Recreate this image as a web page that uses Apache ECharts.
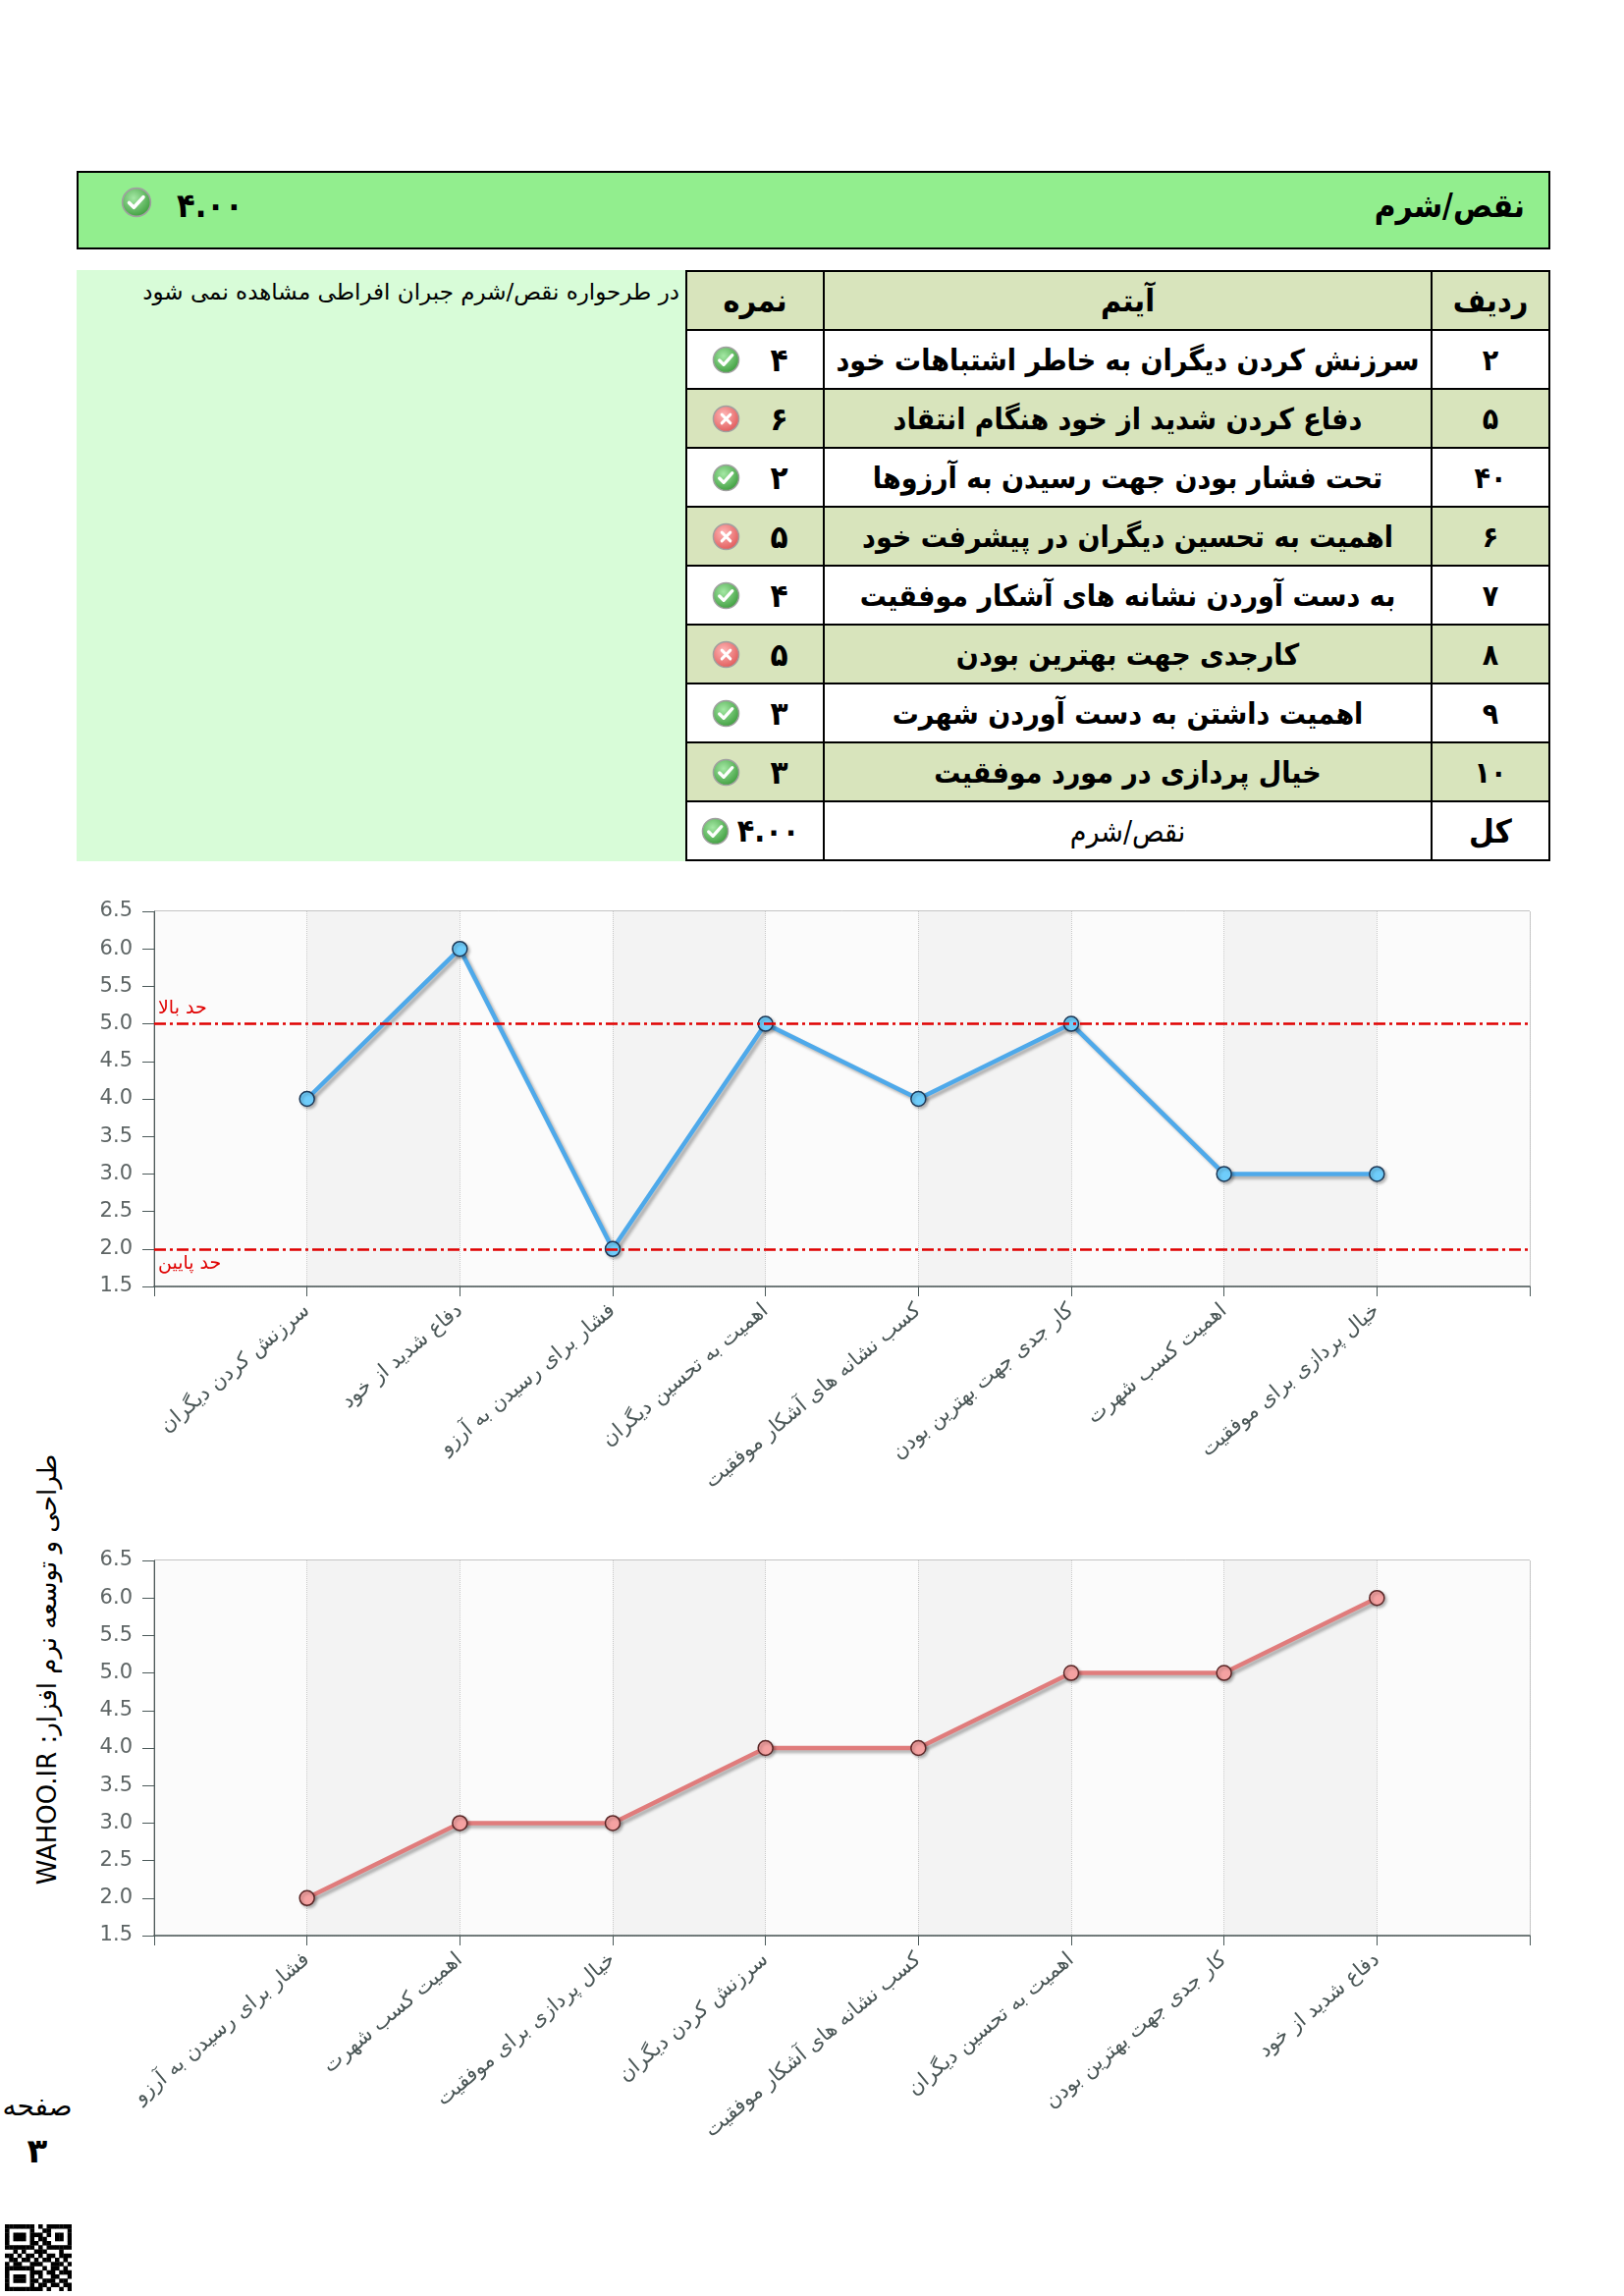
<!DOCTYPE html>
<html lang="fa">
<head>
<meta charset="utf-8">
<title>نقص/شرم</title>
<script src="https://cdn.jsdelivr.net/npm/echarts/dist/echarts.min.js"></script>
<style>
body { margin:0; background:#fff; font-family:"DejaVu Sans", sans-serif; }
#page { position:relative; width:1654px; height:2338px; overflow:hidden; background:#fff; }
#head { position:absolute; left:78px; top:174px; width:1497px; height:76px; background:#92ee8e; border:2px solid #000; }
#head .title { position:absolute; right:24px; top:14px; font:bold 33px "DejaVu Sans Condensed", "DejaVu Sans"; direction:rtl; }
#head .score { position:absolute; left:100px; top:13px; font:bold 34px "DejaVu Sans Condensed", "DejaVu Sans"; }
#note { position:absolute; left:78px; top:275px; width:620px; height:602px; background:#d8fcd8; }
#note div { position:absolute; right:6px; top:9px; font-size:23px; direction:rtl; }
#tbl { position:absolute; left:698px; top:275px; width:881px; border-collapse:collapse; direction:rtl; }
#tbl td, #tbl th { border:2px solid #000; height:58px; padding:0; text-align:center; font:bold 30px "DejaVu Sans Condensed", "DejaVu Sans"; }
#tbl th { background:#d8e4bc; font-size:32px; }
#tbl tr.alt td { background:#d8e4bc; }
#tbl td.sc span { display:inline-block; vertical-align:middle; }
#chart { position:absolute; left:0; top:0; width:1654px; height:2338px; }
#side { position:absolute; left:48px; top:1700px; transform:translate(-50%,-50%) rotate(-90deg); white-space:nowrap; direction:rtl; font-size:26px; }
.pg { position:absolute; left:0; width:76px; text-align:center; direction:rtl; }
#qr { position:absolute; left:5px; top:2265px; }
</style>
</head>
<body>
<div id="page">
  <div id="head"><span class="title"></span><span class="ico"></span><span class="score"></span></div>
  <div id="note"><div></div></div>
  <table id="tbl"></table>
  <div id="side">طراحی و توسعه نرم افزار: WAHOO.IR</div>
  <div class="pg" style="top:2128px;font-size:28px;">صفحه</div>
  <div class="pg" style="top:2170px;font:bold 34px 'DejaVu Sans';">۳</div>
  <svg id="qr" width="68" height="68"></svg>
  <div id="chart"></div>
</div>
<script>
// ---- table data ----
var schemaName = 'نقص/شرم';
var noteText = 'در طرحواره نقص/شرم جبران افراطی مشاهده نمی شود';
var headers = ['ردیف', 'آیتم', 'نمره'];
var rowNo = ['۲', '۵', '۴۰', '۶', '۷', '۸', '۹', '۱۰'];
var items = [
    'سرزنش کردن دیگران به خاطر اشتباهات خود',
    'دفاع کردن شدید از خود هنگام انتقاد',
    'تحت فشار بودن جهت رسیدن به آرزوها',
    'اهمیت به تحسین دیگران در پیشرفت خود',
    'به دست آوردن نشانه های آشکار موفقیت',
    'کارجدی جهت بهترین بودن',
    'اهمیت داشتن به دست آوردن شهرت',
    'خیال پردازی در مورد موفقیت'
];
var scores = [4, 6, 2, 5, 4, 5, 3, 3];
var totalScore = 4.00;
var badFrom = 5;

// ---- chart data ----
var catLabels = ['سرزنش کردن دیگران', 'دفاع شدید از خود', 'فشار برای رسیدن به آرزو', 'اهمیت به تحسین دیگران',
    'کسب نشانه های آشکار موفقیت', 'کار جدی جهت بهترین بودن', 'اهمیت کسب شهرت', 'خیال پردازی برای موفقیت'];
var catValues = [4, 6, 2, 5, 4, 5, 3, 3];
var sortedLabels = ['فشار برای رسیدن به آرزو', 'اهمیت کسب شهرت', 'خیال پردازی برای موفقیت', 'سرزنش کردن دیگران',
    'کسب نشانه های آشکار موفقیت', 'اهمیت به تحسین دیگران', 'کار جدی جهت بهترین بودن', 'دفاع شدید از خود'];
var sortedValues = [2, 3, 3, 4, 4, 5, 5, 6];
var limitValues = [5, 2];
var limitNames = ['حد بالا', 'حد پایین'];

function fa(s) {
    return String(s).replace(/[0-9]/g, function(d){ return '۰۱۲۳۴۵۶۷۸۹'[d]; });
}

var iconCount = 0;
function icon(ok, size) {
    var id = 'g' + (iconCount++);
    var c1 = ok ? '#a4e8a4' : '#ffb8b8', c2 = ok ? '#3c9c3c' : '#e05858';
    var mark = ok ? '<path d="M8 15.5 L12.5 20 L21.5 10" fill="none" stroke="#fff" stroke-width="3.4" stroke-linecap="round" stroke-linejoin="round"/>'
                  : '<path d="M10.5 10.5 L19.5 19.5 M19.5 10.5 L10.5 19.5" stroke="#fff" stroke-width="3" stroke-linecap="round"/>';
    return '<svg width="' + size + '" height="' + size + '" viewBox="0 0 30 30" style="display:block">' +
        '<defs><radialGradient id="' + id + '" cx="40%" cy="35%" r="70%"><stop offset="0" stop-color="' + c1 + '"/><stop offset="1" stop-color="' + c2 + '"/></radialGradient></defs>' +
        '<circle cx="15" cy="15" r="13.5" fill="url(#' + id + ')" stroke="#a0a0a0" stroke-width="1.5"/>' + mark + '</svg>';
}

// header bar
document.querySelector('#head .title').textContent = schemaName;
document.querySelector('#head .score').textContent = fa(totalScore.toFixed(2));
document.querySelector('#head .ico').outerHTML = '<span style="position:absolute;left:43px;top:14px">' + icon(true, 32) + '</span>';
document.querySelector('#note div').textContent = noteText;

// table
var html = '<tr><th style="width:118px">' + headers[0] + '</th><th>' + headers[1] + '</th><th style="width:138px">' + headers[2] + '</th></tr>';
for (var i = 0; i < items.length; i++) {
    html += '<tr class="' + (i % 2 ? 'alt' : '') + '"><td>' + rowNo[i] + '</td><td>' + items[i] + '</td>' +
        '<td class="sc"><span style="width:40px;font-size:33px">' + fa(scores[i]) + '</span><span style="margin-right:20px">' + icon(scores[i] < badFrom, 29) + '</span></td></tr>';
}
html += '<tr><td style="font-size:33px">کل</td><td style="font-weight:normal">' + schemaName + '</td><td class="sc"><span style="width:72px;margin-right:6px;font-size:32px">' +
    fa(totalScore.toFixed(2)) + '</span><span style="margin-right:4px">' + icon(true, 29) + '</span></td></tr>';
document.getElementById('tbl').innerHTML = html;

// qr-like stamp
(function(){
    var rows = [
        '1111111010111111','1000001001100001','1011101110101101','1011101011001101','1000001101100001',
        '1111111010111111','0010100111000100','1101011010110111','0110110101101010','1011001110011101',
        '1111111001011010','1000001110110111','1011101010011001','1011101101110110','1000001011011011','1111111110100101'];
    var s = '', k = 68 / rows.length;
    rows.forEach(function(r, y){ for (var x = 0; x < r.length; x++) if (r[x] === '1')
        s += '<rect x="' + (x * k) + '" y="' + (y * k) + '" width="' + (k + 0.3) + '" height="' + (k + 0.3) + '"/>'; });
    document.getElementById('qr').innerHTML = s;
})();

// ---- charts ----
var chart = echarts.init(document.getElementById('chart'));

function pad(a, fill) { return [fill].concat(a, [fill]); }

function xAxisFor(gi, labels) {
    return {
        type: 'category', gridIndex: gi, boundaryGap: false,
        data: pad(labels, ''),
        axisLine: { lineStyle: { color: '#4c5a5a', width: 1.5 } },
        axisTick: { length: 10, lineStyle: { color: '#4c5a5a' } },
        axisLabel: { interval: 0, rotate: 40, margin: 22, fontSize: 21, color: '#4a5656', fontFamily: 'DejaVu Sans' },
        splitLine: { show: true, lineStyle: { color: '#c8c8c8', type: 'dotted' } },
        splitArea: { show: true, areaStyle: { color: ['#fbfbfb', '#f3f3f3'] } }
    };
}
function yAxisFor(gi) {
    return {
        type: 'value', gridIndex: gi, min: 1.5, max: 6.5, interval: 0.5,
        axisLine: { show: true, lineStyle: { color: '#4c5a5a', width: 1 } },
        axisTick: { show: true, length: 12, lineStyle: { color: '#4c5a5a' } },
        axisLabel: { fontSize: 21, color: '#5e6565', margin: 22, fontFamily: 'DejaVu Sans',
            formatter: function(v){ return v.toFixed(1); } },
        splitLine: { lineStyle: { color: '#c8c8c8', type: 'dotted' } }
    };
}
function lineSeries(gi, values, lineColor, fill, border) {
    return {
        type: 'line', xAxisIndex: gi, yAxisIndex: gi,
        data: pad(values, '-'),
        symbol: 'circle', symbolSize: 15,
        lineStyle: { color: lineColor, width: 4.5, shadowColor: 'rgba(0,0,0,0.28)', shadowBlur: 3, shadowOffsetX: 3, shadowOffsetY: 3 },
        itemStyle: { color: fill, borderColor: border, borderWidth: 1.5, shadowColor: 'rgba(0,0,0,0.25)', shadowBlur: 3, shadowOffsetX: 2, shadowOffsetY: 2 },
        animation: false
    };
}

var s1 = lineSeries(0, catValues, '#4ea9ea', '#6fcdfb', '#1c3857');
s1.markLine = {
    silent: true, symbol: 'none',
    lineStyle: { color: '#e00000', width: 2.5, type: [12, 4, 3, 4] },
    data: limitValues.map(function(v, i){
        return { yAxis: v, label: { show: true, formatter: limitNames[i],
            position: i === 0 ? 'insideStartTop' : 'insideStartBottom',
            color: '#e00000', fontSize: 19, fontFamily: 'DejaVu Sans', distance: [4, 6] } };
    })
};
var s2 = lineSeries(1, sortedValues, '#e07c7c', '#f5a2a2', '#5a2626');

chart.setOption({
    animation: false,
    grid: [
        { left: 157, top: 928, width: 1401, height: 382, show: true, borderColor: '#888', borderWidth: 1, backgroundColor: 'transparent' },
        { left: 157, top: 1589, width: 1401, height: 382, show: true, borderColor: '#888', borderWidth: 1, backgroundColor: 'transparent' }
    ],
    xAxis: [xAxisFor(0, catLabels), xAxisFor(1, sortedLabels)],
    yAxis: [yAxisFor(0), yAxisFor(1)],
    series: [s1, s2]
});
</script>
</body>
</html>
